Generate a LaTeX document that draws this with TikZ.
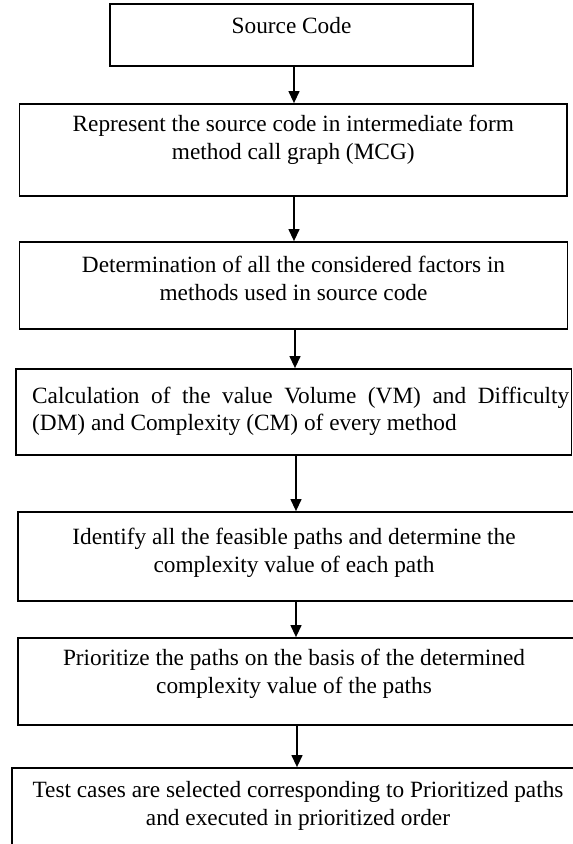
\documentclass[tikz,border=0pt]{standalone}
\usepackage{fontspec}
\setmainfont{Liberation Serif}
\usetikzlibrary{arrows.meta}
\tikzset{
  boxstyle/.style={draw=black, line width=1.8pt, inner sep=0pt},
  txt/.style={inner sep=0pt, align=center, font=\fontsize{23.3}{27.3}\selectfont},
  flowarrow/.style={line width=1.3pt, -{Triangle[length=12pt,width=11pt]}}
}
\begin{document}
\begin{tikzpicture}[x=1pt,y=-1pt]
\useasboundingbox (0,0) rectangle (573,844);
\clip (0,0) rectangle (573,844);
\fill[white] (0,0) rectangle (573,844);
% boxes
\node[boxstyle, minimum width=363pt, minimum height=62pt] (b1) at (291.5,35) {};
\node[boxstyle, minimum width=547.5pt, minimum height=92pt] (b2) at (293.25,150) {};
\node[boxstyle, minimum width=548pt, minimum height=87pt] (b3) at (293.5,285.5) {};
\node[boxstyle, minimum width=555.5pt, minimum height=86pt] (b4) at (293.75,412) {};
\node[boxstyle, minimum width=556pt, minimum height=89pt] (b5) at (296.3,556.5) {};
\node[boxstyle, minimum width=557pt, minimum height=87pt] (b6) at (296.8,681.5) {};
\node[boxstyle, minimum width=568pt, minimum height=92pt] (b7) at (296.3,814) {};
% texts (base anchor = baseline of the last line)
\node[txt, anchor=base] (t1) at (291.5,33) {Source Code};
\node[txt, anchor=base] (t2) at (293.25,159) {Represent the source code in intermediate form\\method call graph (MCG)};
\node[txt, anchor=base] (t3) at (293.5,300) {Determination of all the considered factors in\\methods used in source code};
\node[txt, anchor=base west, text width=537pt, align=justify] (t4) at (32,403) {Calculation of the value Volume (VM) and Difficulty (DM) and Complexity (CM) of every method};
\node[txt, anchor=base] (t5) at (294,572) {Identify all the feasible paths and determine the\\complexity value of each path};
\node[txt, anchor=base] (t6) at (294,693) {Prioritize the paths on the basis of the determined\\complexity value of the paths};
\node[txt, anchor=base] (t7) at (298,825) {Test cases are selected corresponding to Prioritized paths\\and executed in prioritized order};
% arrow column
\coordinate (c1) at (294,0);
\coordinate (c2) at (295,0);
\coordinate (c3) at (296,0);
\coordinate (c4) at (297,0);
\draw[flowarrow] (b1.south -| c1) -- (b2.north -| c1);
\draw[flowarrow] (b2.south -| c1) -- (b3.north -| c1);
\draw[flowarrow] (b3.south -| c2) -- (b4.north -| c2);
\draw[flowarrow] (b4.south -| c3) -- (b5.north -| c3);
\draw[flowarrow] (b5.south -| c3) -- (b6.north -| c3);
\draw[flowarrow] (b6.south -| c4) -- (b7.north -| c4);
\end{tikzpicture}
\end{document}
